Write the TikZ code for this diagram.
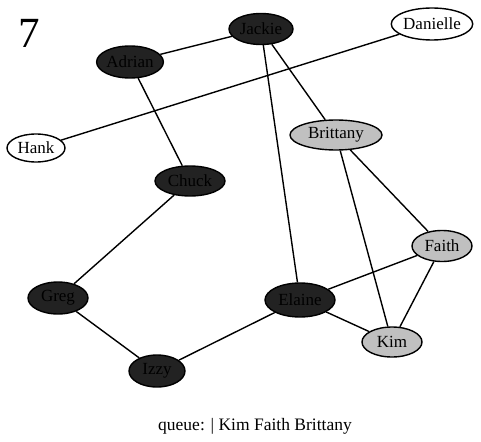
\documentclass[tikz,border=0pt]{standalone}
\usepackage{fontspec}
\setmainfont{Liberation Serif}
\usetikzlibrary{shapes.geometric}
\definecolor{darkfill}{HTML}{222222}
\definecolor{grayfill}{HTML}{C0C0C0}
\tikzset{
  vtx/.style={ellipse, draw=black, line width=1.4pt, inner sep=0pt, font=\fontsize{17}{19}\selectfont},
  dark/.style={vtx, fill=darkfill},
  seen/.style={vtx, fill=grayfill},
  fresh/.style={vtx, fill=white},
  edge/.style={line width=1.4pt, black}
}
\begin{document}
\begin{tikzpicture}[x=1pt,y=-1pt]
\useasboundingbox (0,0) rectangle (481,441);
\node[font=\fontsize{43}{45}\selectfont] (num) at (29,33) {7};
\node[dark, minimum width=64pt, minimum height=31pt] (Jackie) at (261,29) {Jackie};
\node[dark, minimum width=64pt, minimum height=32pt] (Adrian) at (130,62) {Adrian};
\node[fresh, minimum width=72pt, minimum height=32pt] (Danielle) at (432,24) {Danielle};
\node[fresh, minimum width=58pt, minimum height=28pt] (Hank) at (36,148) {Hank};
\node[seen, minimum width=92pt, minimum height=30pt] (Brittany) at (336,135) {Brittany};
\node[dark, minimum width=70pt, minimum height=30pt] (Chuck) at (190,181) {Chuck};
\node[seen, minimum width=60pt, minimum height=31pt] (Faith) at (442,246) {Faith};
\node[dark, minimum width=60pt, minimum height=32pt] (Greg) at (58,298) {Greg};
\node[dark, minimum width=70pt, minimum height=34pt] (Elaine) at (300,300) {Elaine};
\node[seen, minimum width=60pt, minimum height=30pt] (Kim) at (392,342) {Kim};
\node[dark, minimum width=56pt, minimum height=32pt] (Izzy) at (157,371) {Izzy};
\node[font=\fontsize{17.5}{19}\selectfont] (queue) at (255,426) {queue: | Kim Faith Brittany};
\draw[edge] (Adrian) -- (Jackie);
\draw[edge] (Adrian) -- (Chuck);
\draw[edge] (Jackie) -- (Brittany);
\draw[edge] (Jackie) -- (Elaine);
\draw[edge] (Danielle) -- (Hank);
\draw[edge] (Brittany) -- (Faith);
\draw[edge] (Brittany) -- (Kim);
\draw[edge] (Chuck) -- (Greg);
\draw[edge] (Greg) -- (Izzy);
\draw[edge] (Izzy) -- (Elaine);
\draw[edge] (Elaine) -- (Faith);
\draw[edge] (Elaine) -- (Kim);
\draw[edge] (Faith) -- (Kim);
\end{tikzpicture}
\end{document}
